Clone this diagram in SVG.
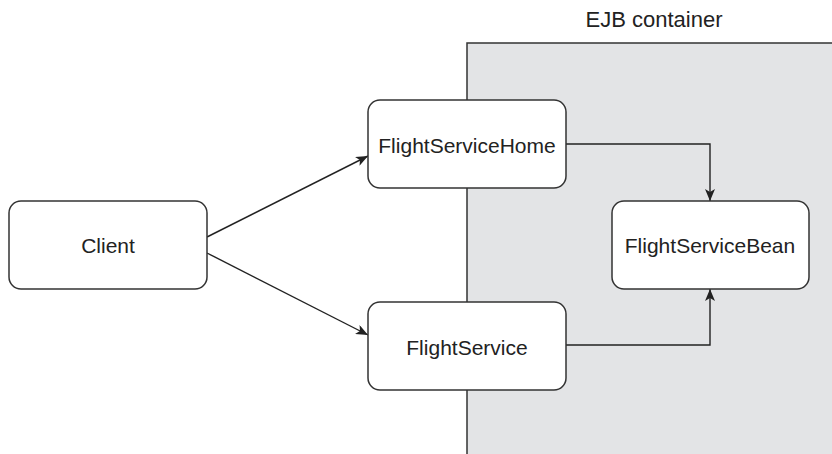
<svg xmlns="http://www.w3.org/2000/svg" width="832" height="454" viewBox="0 0 832 454">
<style>
.node rect{fill:#fff;stroke:#333;stroke-width:1.5}
.node text,.label{font-family:"Liberation Sans",Arial,sans-serif;fill:#222;text-anchor:middle}
.node text{font-size:21px}
.conn{fill:none;stroke:#222;stroke-width:1.4}
</style>
<defs>
<marker id="arr" viewBox="0 0 12 10" refX="12" refY="5" markerWidth="12" markerHeight="10" markerUnits="userSpaceOnUse" orient="auto">
<path d="M0,0 L12,5 L0,10 L3,5 Z" fill="#222"/>
</marker>
</defs>
<rect width="832" height="454" fill="#fff"/>
<g id="container">
<rect x="467" y="43" width="400" height="450" fill="#e3e4e6" stroke="#333" stroke-width="1.5"/>
<text class="label" x="654" y="27" font-size="22">EJB container</text>
</g>
<g id="connectors">
<path class="conn" d="M207,237 L368,156" marker-end="url(#arr)"/>
<path class="conn" d="M207,253 L368,335" marker-end="url(#arr)"/>
<path class="conn" d="M566,144 H710 V201" marker-end="url(#arr)"/>
<path class="conn" d="M566,345 H710 V289" marker-end="url(#arr)"/>
</g>
<g id="client" class="node">
<rect x="9" y="201" width="198" height="88" rx="12"/>
<text x="108" y="253">Client</text>
</g>
<g id="flightServiceHome" class="node">
<rect x="368" y="100" width="198" height="88" rx="12"/>
<text x="467" y="153">FlightServiceHome</text>
</g>
<g id="flightService" class="node">
<rect x="368" y="302" width="198" height="88" rx="12"/>
<text x="467" y="355">FlightService</text>
</g>
<g id="flightServiceBean" class="node">
<rect x="612" y="201" width="197" height="88" rx="12"/>
<text x="710" y="253">FlightServiceBean</text>
</g>
</svg>
